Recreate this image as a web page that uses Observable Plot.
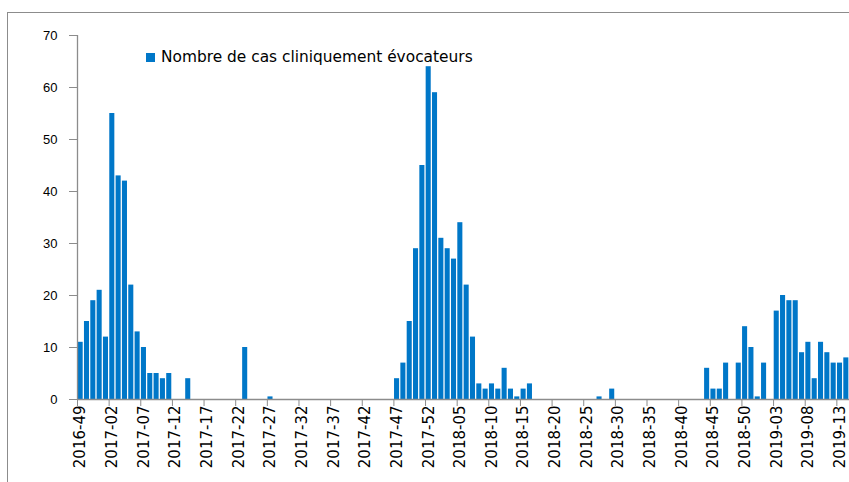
<!DOCTYPE html>
<html>
<head>
<meta charset="utf-8">
<script src="https://cdn.jsdelivr.net/npm/d3@7"></script>
<script src="https://cdn.jsdelivr.net/npm/@observablehq/plot@0.6"></script>
<style>
  html, body { margin: 0; padding: 0; background: #fff; }
  #wrap { position: relative; width: 849px; height: 482px; overflow: hidden; background: #fff; }
  #frame { position: absolute; left: 7px; top: 12px; width: 900px; height: 520px; border: 1px solid #8c8c8c; box-sizing: border-box; }
  #chart { position: absolute; left: 0; top: 0; }
  #legend { position: absolute; left: 146px; top: 48px; display: flex; align-items: center; font-family: "DejaVu Sans", sans-serif; font-size: 15.4px; color: #000; white-space: nowrap; }
  #legend .sw { width: 9px; height: 9px; background: #0077C8; margin-right: 6px; }
</style>
</head>
<body>
<div id="wrap">
  <div id="frame"></div>
  <div id="chart"></div>
  <div id="legend"><span class="sw"></span><span>Nombre de cas cliniquement évocateurs</span></div>
</div>
<script>
// Week ranges covered (year, first week, last week)
const yearSpans = [[2016, 49, 52], [2017, 1, 52], [2018, 1, 52], [2019, 1, 14]];
const weeks = [];
for (const [yr, a, b] of yearSpans) for (let w = a; w <= b; w++) weeks.push(`${yr}-${String(w).padStart(2, "0")}`);

// Weekly counts, 2016-49 .. 2019-14
const cases = [
  11, 15, 19, 21,                                     // 2016-49..52
  12, 55, 43, 42, 22, 13, 10, 5, 5, 4,                // 2017-01..10
  5, 0, 0, 4, 0, 0, 0, 0, 0, 0,                       // 2017-11..20
  0, 0, 10, 0, 0, 0, 0.5, 0, 0, 0,                    // 2017-21..30
  0, 0, 0, 0, 0, 0, 0, 0, 0, 0,                       // 2017-31..40
  0, 0, 0, 0, 0, 0, 4, 7, 15, 29,                     // 2017-41..50
  45, 64,                                             // 2017-51..52
  59, 31, 29, 27, 34, 22, 12, 3, 2, 3,                // 2018-01..10
  2, 6, 2, 0.5, 2, 3, 0, 0, 0, 0,                     // 2018-11..20
  0, 0, 0, 0, 0, 0, 0.5, 0, 2, 0,                     // 2018-21..30
  0, 0, 0, 0, 0, 0, 0, 0, 0, 0,                       // 2018-31..40
  0, 0, 0, 6, 2, 2, 7, 0, 7, 14,                      // 2018-41..50
  10, 0.5,                                            // 2018-51..52
  7, 0, 17, 20, 19, 19, 9, 11, 4, 11,                 // 2019-01..10
  9, 7, 7, 8                                          // 2019-11..14
];

const tickLabels = [
  "2016-49", "2017-02", "2017-07", "2017-12", "2017-17", "2017-22", "2017-27", "2017-32",
  "2017-37", "2017-42", "2017-47", "2017-52", "2018-05", "2018-10", "2018-15", "2018-20",
  "2018-25", "2018-30", "2018-35", "2018-40", "2018-45", "2018-50", "2019-03", "2019-08", "2019-13"
];
const yTicks = [0, 10, 20, 30, 40, 50, 60, 70];

const data = weeks.map((w, i) => ({week: w, value: cases[i]}));

const W = 849, H = 482, mL = 77, mR = 0, mT = 35, mB = 83;
const step = (W - mL - mR) / weeks.length;
const axisGray = "#8c8c8c";

const chart = Plot.plot({
  width: W, height: H,
  marginLeft: mL, marginRight: mR, marginTop: mT, marginBottom: mB,
  style: {background: "transparent", color: "#000", fontFamily: "DejaVu Sans"},
  x: {type: "band", domain: weeks, paddingInner: 0.2, paddingOuter: 0.1, axis: null, label: null},
  y: {domain: [0, 70], axis: null, label: null},
  marks: [
    Plot.barY(data, {x: "week", y: "value", fill: "#0077C8"}),
    Plot.ruleY([0], {stroke: axisGray, strokeWidth: 1.3}),
    Plot.ruleX([weeks[0]], {stroke: axisGray, strokeWidth: 1.3, dx: -step / 2}),
    Plot.axisY({ticks: yTicks, tickSize: 8, tickPadding: 12, stroke: axisGray, fill: "#000", label: null,
      fontSize: 13, fontFamily: "Liberation Sans", tickFormat: d => d}),
    Plot.axisX({ticks: tickLabels, tickSize: 7, stroke: axisGray, dx: -step / 2, label: null, tickFormat: () => ""}),
    Plot.axisX({ticks: tickLabels, tickSize: 0, tickPadding: 6, tickRotate: -90, fill: "#000", label: null,
      fontSize: 15, fontFamily: "DejaVu Sans"})
  ]
});
document.getElementById("chart").appendChild(chart);
</script>
</body>
</html>
